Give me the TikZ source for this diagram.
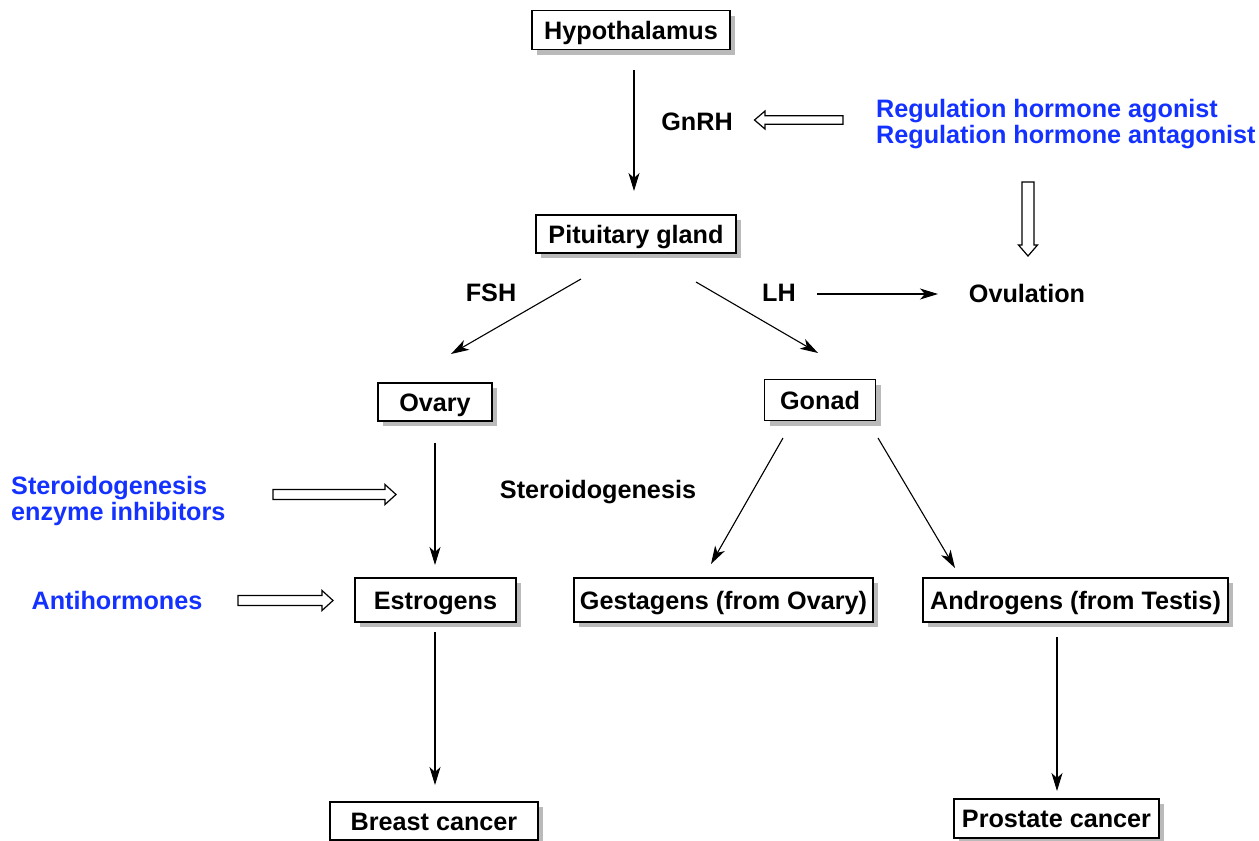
\documentclass[tikz,border=0pt]{standalone}
\usepackage{fontspec}
\setmainfont{Liberation Sans}
\usetikzlibrary{arrows.meta,shadows}
\definecolor{regblue}{RGB}{20,50,255}
\begin{document}
\begin{tikzpicture}[x=1pt,y=-1pt,
  font=\fontsize{25.2}{26.5}\selectfont\bfseries,
  box/.style={draw, line width=1.5pt, fill=white, inner sep=0pt, align=center,
    text height=18pt, text depth=0pt,
    drop shadow={shadow xshift=5pt, shadow yshift=-5pt, fill=black!27, opacity=1}},
  lbl/.style={inner sep=0pt, align=center},
  blu/.style={inner sep=0pt, text=regblue, align=left},
  arr/.style={line width=1.1pt, -{Stealth[length=18pt,width=11pt,inset=5pt]}},
  hollow/.style={draw, line width=1.2pt, fill=white, line join=miter},
]
\useasboundingbox[fill=white] (0,0) rectangle (1259,841);

% boxes
\node[box, minimum width=198pt, minimum height=39pt] (hyp) at (631,30) {Hypothalamus};
\node[box, minimum width=200pt, minimum height=38pt] (pit) at (636,234) {Pituitary gland};
\node[box, minimum width=114pt, minimum height=38pt] (ova) at (435,402) {Ovary};
\node[box, minimum width=111pt, minimum height=41pt] (gon) at (820,400) {Gonad};
\node[box, minimum width=161pt, minimum height=44pt] (est) at (435.5,600) {Estrogens};
\node[box, minimum width=299pt, minimum height=44pt] (ges) at (723.5,600) {Gestagens (from Ovary)};
\node[box, minimum width=305pt, minimum height=44pt] (and) at (1075.5,600) {Androgens (from Testis)};
\node[box, minimum width=208pt, minimum height=38pt] (bre) at (434,821) {Breast cancer};
\node[box, minimum width=205pt, minimum height=39pt] (pro) at (1056.5,818.5) {Prostate cancer};

% labels
\node[lbl] (gnrh) at (697,122) {GnRH};
\node[blu, anchor=west] (reg) at (876,124) {Regulation hormone agonist\\Regulation hormone antagonist};
\node[lbl] (fsh) at (491,293) {FSH};
\node[lbl] (lh) at (779,293) {LH};
\node[lbl] (ovu) at (1027,293) {Ovulation};
\node[lbl] (ster) at (598,492) {Steroidogenesis};
\node[blu, anchor=west] (sei) at (11,501) {Steroidogenesis\\enzyme inhibitors};
\node[blu] (anti) at (117,600) {Antihormones};

% connector end points
\coordinate (hypOut) at (634,70);   \coordinate (pitIn) at (634,191);
\coordinate (fshOut) at (581,279);  \coordinate (ovaIn) at (451,354);
\coordinate (lhOut) at (696,282);   \coordinate (gonIn) at (818,353);
\coordinate (lhR) at (817,294);     \coordinate (ovuIn) at (938,294);
\coordinate (ovaOut) at (435,443);  \coordinate (estIn) at (435,565);
\coordinate (gonL) at (783,438);    \coordinate (gesIn) at (711,564);
\coordinate (gonR) at (878,438);    \coordinate (andIn) at (955,568);
\coordinate (estOut) at (435,632);  \coordinate (breIn) at (435,785);
\coordinate (andOut) at (1057,637); \coordinate (proIn) at (1057,791);

\draw[arr] (hypOut) -- (pitIn);
\draw[arr] (fshOut) -- (ovaIn);
\draw[arr] (lhOut) -- (gonIn);
\draw[arr] (lhR) -- (ovuIn);
\draw[arr] (ovaOut) -- (estIn);
\draw[arr] (gonL) -- (gesIn);
\draw[arr] (gonR) -- (andIn);
\draw[arr] (estOut) -- (breIn);
\draw[arr] (andOut) -- (proIn);

% hollow arrows (drawn shapes)
% regulation -> GnRH (pointing left)
\draw[hollow] (843,115.8) -- (765,115.8) -- (765,111) -- (754.5,120) -- (765,129) -- (765,124.2) -- (843,124.2) -- cycle;
% regulation -> ovulation (pointing down)
\draw[hollow] (1022,182) -- (1022,245) -- (1018.5,245) -- (1028,256) -- (1037.5,245) -- (1034,245) -- (1034,182) -- cycle;
% steroidogenesis enzyme inhibitors (pointing right)
\draw[hollow] (273,489.5) -- (385,489.5) -- (385,484.5) -- (396,494.5) -- (385,504.5) -- (385,499.5) -- (273,499.5) -- cycle;
% antihormones (pointing right)
\draw[hollow] (238,595.5) -- (322,595.5) -- (322,590.5) -- (333,600.5) -- (322,610.5) -- (322,605.5) -- (238,605.5) -- cycle;
\end{tikzpicture}
\end{document}
